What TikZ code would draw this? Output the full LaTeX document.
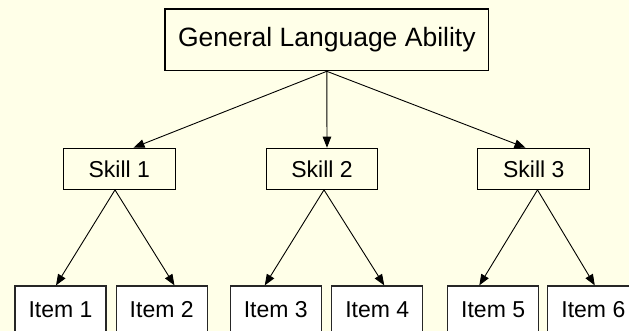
\documentclass[tikz,border=0pt]{standalone}
\usepackage{fontspec}
\setmainfont{Liberation Sans}
\usetikzlibrary{arrows.meta,calc}
\definecolor{bgyellow}{RGB}{255,255,232}
\tikzset{
  box/.style={draw=black,line width=1.2pt,fill=bgyellow,inner sep=0pt,anchor=center},
  topbox/.style={box,minimum width=323.6pt,minimum height=61.7pt,font=\fontsize{26.5pt}{30pt}\selectfont},
  skillbox/.style={box,minimum width=112pt,minimum height=41pt,font=\fontsize{23pt}{27pt}\selectfont},
  itembox/.style={box,draw=black!85,fill=white,minimum width=91pt,minimum height=48pt,font=\fontsize{23pt}{27pt}\selectfont},
  arr/.style={draw=black,line width=0.9pt,-{Triangle[length=11pt,width=8.5pt]}}
}
\begin{document}
\begin{tikzpicture}[x=1pt,y=-1pt]
\fill[bgyellow] (0,0) rectangle (629,331);
\useasboundingbox (0,0) rectangle (629,331);
\clip (0,0) rectangle (629,331);
\node[topbox] (G) at (326.8,39.85) {General Language Ability};
\node[skillbox] (s1) at (119.3,168.8) {Skill 1};
\node[skillbox,minimum width=111pt] (s2) at (322,168.8) {Skill 2};
\node[skillbox] (s3) at (533.75,168.8) {Skill 3};
\node[itembox] (i1) at (60.5,310) {Item 1};
\node[itembox] (i2) at (161.7,310) {Item 2};
\node[itembox] (i3) at (275.75,310) {Item 3};
\node[itembox] (i4) at (377.25,310) {Item 4};
\node[itembox] (i5) at (493.15,310) {Item 5};
\node[itembox] (i6) at (593.35,310) {Item 6};
\draw[arr] (G.south) -- ($(s1.north)+(14.2,0)$);
\draw[arr] (G.south) -- ($(s2.north)+(5,0)$);
\draw[arr] (G.south) -- ($(s3.north)+(-8.25,0)$);
\coordinate (a1) at ($(s1.south)+(-4.3,0)$);
\coordinate (a2) at ($(s2.south)+(2,0)$);
\coordinate (a3) at ($(s3.south)+(3.75,0)$);
\draw[arr] (a1) -- ($(i1.north)+(-4.5,0)$);
\draw[arr] (a1) -- ($(i2.north)+(12.8,0)$);
\draw[arr] (a2) -- ($(i3.north)+(-11,0)$);
\draw[arr] (a2) -- ($(i4.north)+(7,0)$);
\draw[arr] (a3) -- ($(i5.north)+(-13.85,0)$);
\draw[arr] (a3) -- ($(i6.north)+(1.45,0)$);
\end{tikzpicture}
\end{document}
